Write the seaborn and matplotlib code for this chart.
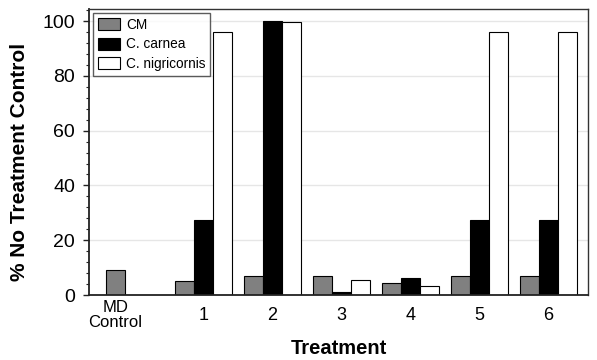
import matplotlib
matplotlib.use("Agg")
import matplotlib.pyplot as plt
import seaborn as sns
import pandas as pd
import numpy as np
from matplotlib.ticker import MultipleLocator

treatments = ["MD\nControl", "1", "2", "3", "4", "5", "6"]
series = ["CM", "C. carnea", "C. nigricornis"]
cm_vals = [9.0, 5.1, 6.8, 6.8, 4.5, 6.8, 6.8]
carnea_vals = [0.0, 27.4, 100.0, 1.0, 6.3, 27.4, 27.4]
nigri_vals = [0.0, 95.9, 99.6, 5.4, 3.2, 95.9, 95.9]
colors = ["#808080", "#000000", "#ffffff"]

rows = []
for t, a, b, c in zip(treatments, cm_vals, carnea_vals, nigri_vals):
    rows.append((t, series[0], a))
    rows.append((t, series[1], b))
    rows.append((t, series[2], c))
df = pd.DataFrame(rows, columns=["Treatment", "Series", "Value"])

sns.set_style("white")
plt.rcParams["font.family"] = ["Liberation Sans", "DejaVu Sans"]
plt.rcParams["text.color"] = "black"
plt.rcParams["axes.labelcolor"] = "black"
plt.rcParams["xtick.color"] = "black"
plt.rcParams["ytick.color"] = "black"

fig = plt.figure(figsize=(5.97, 3.6), dpi=100)
ax = fig.add_axes([89/597, 1 - 295/360, (588-89)/597, (295-9)/360])

width = 0.83
sns.barplot(data=df, x="Treatment", y="Value", hue="Series", order=treatments,
            hue_order=series, palette=colors, width=width, ax=ax,
            edgecolor="black", linewidth=0.8, saturation=1, errorbar=None)

for p in ax.patches:
    if p.get_height() == 0:
        p.set_linewidth(0)

ax.set_ylim(0, 104.4)
ax.set_xlim(-0.66, 6.57)
ax.set_yticks([0, 20, 40, 60, 80, 100])
ax.yaxis.set_minor_locator(MultipleLocator(4))
ax.grid(axis="y", color="#e6e6e6", linewidth=1)
ax.set_axisbelow(True)

bw = width / 3
# numbered treatments on major ticks, MD Control on a minor tick (label under its bar)
ax.set_xticks(list(range(1, 7)))
ax.set_xticklabels(treatments[1:], fontsize=13)
ax.set_xticks([0 - bw], minor=True)
ax.set_xticklabels([treatments[0]], minor=True, fontsize=12, linespacing=1.05)
ax.tick_params(axis="x", which="major", length=0, pad=9)
ax.tick_params(axis="x", which="minor", length=0, pad=3.5)
ax.tick_params(axis="y", which="major", length=4, width=1, labelsize=14, left=True,
               direction="out", color="#222222", pad=6)
ax.tick_params(axis="y", which="minor", length=2, width=0.8, left=True,
               direction="out", color="#222222")

for s in ax.spines.values():
    s.set_color("#333333")
    s.set_linewidth(1)
ax.spines["left"].set_linewidth(1.3)
ax.spines["bottom"].set_linewidth(1.3)
ax.spines["left"].set_color("#222222")
ax.spines["bottom"].set_color("#222222")

ax.set_xlabel("Treatment", fontsize=14.5, fontweight="bold", labelpad=6)
ax.set_ylabel("% No Treatment Control", fontsize=15, fontweight="bold")
ax.yaxis.set_label_coords(-0.121, 0.465)

leg = ax.legend(loc="upper left", bbox_to_anchor=(0.008, 0.986), fontsize=9.8,
                frameon=True, fancybox=False, edgecolor="#333333",
                handlelength=1.6, handleheight=1.0, handletextpad=0.45,
                borderpad=0.36, labelspacing=0.4, borderaxespad=0.0)
leg.get_frame().set_linewidth(1)
for h in leg.legend_handles:
    h.set_edgecolor("black")
    h.set_linewidth(0.8)

fig.savefig("out.png", dpi=100)
